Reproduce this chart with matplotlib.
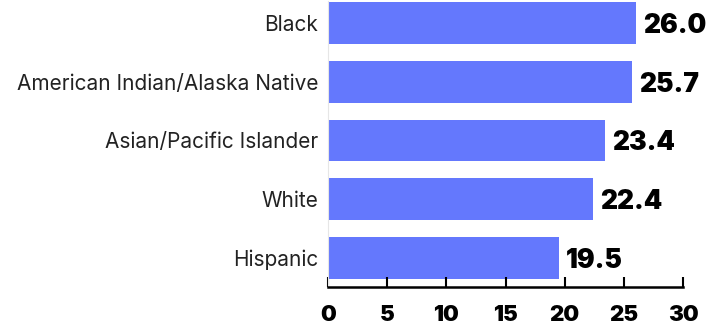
import matplotlib.pyplot as plt

categories = ['Black', 'American Indian/Alaska Native', 'Asian/Pacific Islander', 'White', 'Hispanic']
values = [26.0, 25.7, 23.4, 22.4, 19.5]
xticks = [0, 5, 10, 15, 20, 25, 30]

plt.rcParams['font.family'] = ['Inter', 'DejaVu Sans']

fig = plt.figure(figsize=(7.2, 3.29), dpi=100)
ax = fig.add_axes([328 / 720, 42 / 329, 355 / 720, 286 / 329])

pos = list(range(len(categories)))[::-1]
ax.barh(pos, values, height=0.71, color='#6478fd')

# value labels next to the bars
for p, v in zip(pos, values):
    ax.text(v + 0.6, p - 0.05, f'{v:.1f}', va='center', ha='left',
            fontsize=19, fontweight=900, color='black')

ax.set_xlim(0, 30)
ax.set_ylim(-0.49, 4.37)
ax.set_yticks(pos)
ax.set_yticklabels(categories, fontsize=15, color='#222222')
ax.set_xticks(xticks)
ax.set_xticklabels([str(t) for t in xticks], fontsize=16, fontweight=900)

ax.tick_params(axis='y', length=0, pad=7)
ax.tick_params(axis='x', direction='in', length=7, width=1.5, pad=13)

for s in ['top', 'right']:
    ax.spines[s].set_visible(False)
ax.spines['left'].set_color('#e6e6e6')
ax.spines['bottom'].set_linewidth(1.8)

plt.savefig('out.png', dpi=100)
